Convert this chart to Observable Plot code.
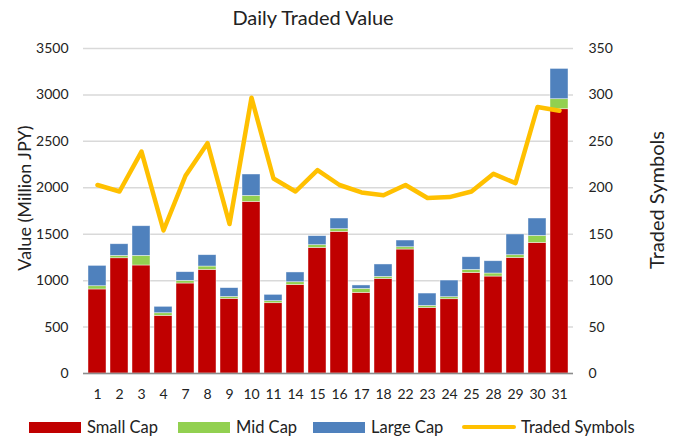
<!DOCTYPE html>
<html>
<head>
<meta charset="utf-8">
<script src="https://cdn.jsdelivr.net/npm/d3@7"></script>
<script src="https://cdn.jsdelivr.net/npm/@observablehq/plot@0.6"></script>
<style>
  html, body { margin: 0; padding: 0; background: #fff; }
  #wrap { position: relative; width: 675px; height: 436px; overflow: hidden; font-family: Lato, "Open Sans", sans-serif; color: #222; }
  #title { position: absolute; left: 313px; top: 17px; transform: translate(-50%, -50%); font-size: 20px; white-space: nowrap; }
  #chart { position: absolute; left: 0; top: 32px; }
  .ytitle { position: absolute; white-space: nowrap; transform: translate(-50%, -50%) rotate(-90deg); }
  #legend { position: absolute; left: 0; top: 419px; height: 16px; width: 675px; font-size: 16.5px; }
  .item { position: absolute; top: 0; display: flex; align-items: center; height: 16px; }
  .sw { width: 52px; height: 11px; margin-right: 6px; }
  .ln { width: 54px; height: 4px; border-radius: 2px; margin-right: 5px; }
</style>
</head>
<body>
<div id="wrap">
  <div id="title">Daily Traded Value</div>
  <div id="chart"></div>
  <div class="ytitle" style="left:24px; top:198px; font-size:18px;">Value (Million JPY)</div>
  <div class="ytitle" style="left:656px; top:200px; font-size:20px;">Traded Symbols</div>
  <div id="legend"></div>
</div>
<script>
// ---- data ----
const days = ["1","2","3","4","7","8","9","10","11","14","15","16","17","18","22","23","24","25","28","29","30","31"];
const smallCap = [905,1241,1163,621,969,1116,804,1848,757,954,1353,1525,868,1019,1335,706,800,1083,1044,1245,1406,2846];
const midCap   = [35,26,104,28,29,36,21,65,22,29,29,29,43,22,25,22,22,33,33,29,76,108];
const largeCap = [219,125,319,69,93,122,94,230,68,105,97,115,37,133,72,133,179,136,132,223,187,326];
const tradedSymbols = [203,196,239,154,213,248,161,297,210,196,219,203,195,192,203,189,190,196,215,205,287,283];
const valueTicks = [0,500,1000,1500,2000,2500,3000,3500];
const symbolTicks = [0,50,100,150,200,250,300,350];
const seriesNames = ["Small Cap","Mid Cap","Large Cap"];
const seriesColors = ["#C00000","#92D050","#4F81BD"];
const lineName = "Traded Symbols";
const lineColor = "#FFC000";

// ---- build tables ----
const seriesValues = [smallCap, midCap, largeCap];
const rows = [];
seriesNames.forEach((s, i) => days.forEach((d, j) => rows.push({day: d, series: s, value: seriesValues[i][j]})));
const symRows = days.map((d, j) => ({day: d, symbols: tradedSymbols[j]}));
// right axis maps 0..350 onto the same pixel range as 0..3500
const ratio = valueTicks[valueTicks.length - 1] / symbolTicks[symbolTicks.length - 1];

const plot = Plot.plot({
  width: 675,
  height: 375,
  marginTop: 16,
  marginBottom: 34,
  marginLeft: 83,
  marginRight: 102,
  style: {fontFamily: "Lato, 'Open Sans', sans-serif", fontSize: "14px", color: "#222", background: "transparent"},
  x: {type: "band", domain: days, padding: 0.19, label: null},
  y: {domain: [0, 3500], label: null},
  color: {domain: seriesNames, range: seriesColors},
  marks: [
    Plot.gridY(valueTicks, {stroke: "#d9d9d9", strokeOpacity: 1, strokeWidth: 1.5}),
    Plot.barY(rows, {x: "day", y: "value", fill: "series", order: seriesNames, stroke: "#ffffff", strokeOpacity: 0.6, strokeWidth: 0.7}),
    Plot.ruleY([0], {stroke: "#8c8c8c", strokeWidth: 1.5}),
    Plot.line(symRows, {x: "day", y: d => d.symbols * ratio, stroke: lineColor, strokeWidth: 4.5}),
    Plot.axisX({tickSize: 0, tickPadding: 16, label: null, fontSize: 14}),
    Plot.axisY(valueTicks, {anchor: "left", tickSize: 0, tickPadding: 15, label: null, fontSize: 14,
      tickFormat: d => String(d)}),
    Plot.axisY(valueTicks, {anchor: "right", tickSize: 0, tickPadding: 15, label: null, fontSize: 14,
      tickFormat: d => String(symbolTicks[valueTicks.indexOf(d)])})
  ]
});
document.getElementById("chart").appendChild(plot);

// ---- legend ----
const legend = document.getElementById("legend");
const lefts = [29, 178, 313];
seriesNames.forEach((s, i) => {
  const it = document.createElement("div");
  it.className = "item";
  it.style.left = lefts[i] + "px";
  it.innerHTML = `<span class="sw" style="background:${seriesColors[i]}"></span><span>${s}</span>`;
  legend.appendChild(it);
});
const li = document.createElement("div");
li.className = "item";
li.style.left = "462px";
li.innerHTML = `<span class="ln" style="background:${lineColor}"></span><span>${lineName}</span>`;
legend.appendChild(li);
</script>
</body>
</html>
